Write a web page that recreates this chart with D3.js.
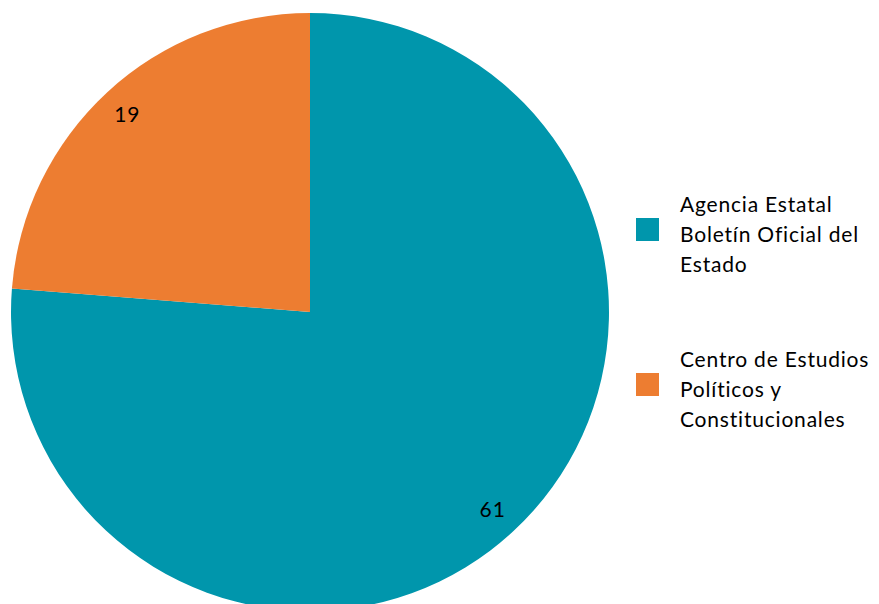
<!DOCTYPE html>
<html>
<head>
<meta charset="utf-8">
<script src="https://cdn.jsdelivr.net/npm/d3@7"></script>
<style>
  html, body { margin: 0; padding: 0; background: #fff; }
  svg { display: block; font-family: Lato, "Open Sans", sans-serif; }
</style>
</head>
<body>
<div id="chart"></div>
<script>
const categories = [
  'Agencia Estatal Boletín Oficial del Estado',
  'Centro de Estudios Políticos y Constitucionales'
];
const values = [61, 19];
const legendLines = [
  ['Agencia Estatal', 'Boletín Oficial del', 'Estado'],
  ['Centro de Estudios', 'Políticos y', 'Constitucionales']
];
const colors = ['#0096ac', '#ed7d31'];

const width = 879;
const height = 604;
const cx = 310;
const cy = 312;
const radius = 299;

const svg = d3.select('#chart')
  .append('svg')
  .attr('width', width)
  .attr('height', height)
  .attr('viewBox', `0 0 ${width} ${height}`);

const data = categories.map((c, i) => ({ name: c, value: values[i], color: colors[i] }));

const pie = d3.pie()
  .value(d => d.value)
  .sort(null);

const arc = d3.arc()
  .innerRadius(0)
  .outerRadius(radius);

const labelArc = d3.arc()
  .innerRadius(radius * 0.9)
  .outerRadius(radius * 0.9);

const g = svg.append('g')
  .attr('transform', `translate(${cx},${cy})`);

const slices = pie(data);

g.selectAll('path.slice')
  .data(slices)
  .join('path')
  .attr('class', 'slice')
  .attr('d', arc)
  .attr('fill', d => d.data.color);

// value labels
g.selectAll('text.val')
  .data(slices)
  .join('text')
  .attr('class', 'val')
  .attr('transform', d => `translate(${labelArc.centroid(d)})`)
  .attr('text-anchor', 'middle')
  .attr('dy', '0.35em')
  .attr('font-size', 21)
  .attr('letter-spacing', 1)
  .attr('fill', '#000')
  .text(d => d.data.value);

// legend
const legendY = [218, 373];
const legend = svg.append('g').attr('class', 'legend');
data.forEach((d, i) => {
  const lg = legend.append('g')
    .attr('transform', `translate(636,${legendY[i]})`);
  lg.append('rect')
    .attr('width', 23)
    .attr('height', 23)
    .attr('fill', d.color);
  lg.append('text')
    .attr('x', 44)
    .attr('y', -6)
    .attr('font-size', 21)
    .attr('letter-spacing', 0.8)
    .attr('fill', '#000')
    .selectAll('tspan')
    .data(legendLines[i])
    .join('tspan')
    .attr('x', 44)
    .attr('dy', (t, j) => j === 0 ? 0 : 30)
    .text(t => t);
});
</script>
</body>
</html>
